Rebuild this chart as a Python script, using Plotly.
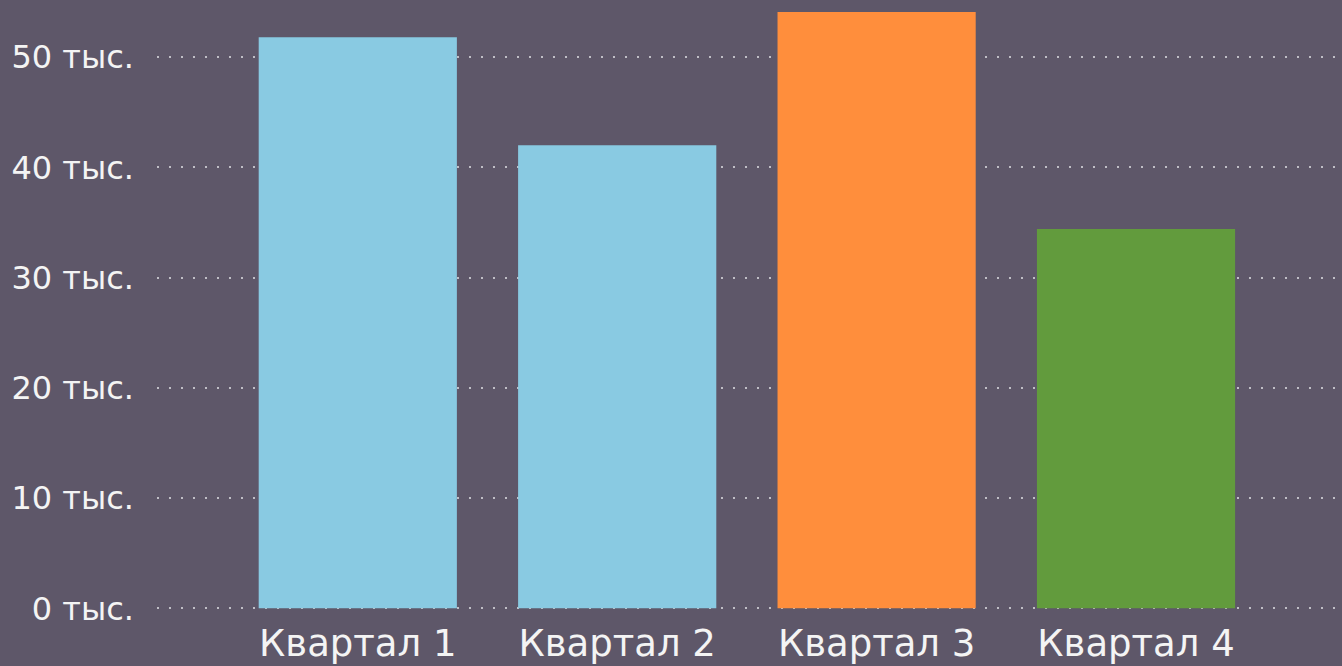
import plotly.graph_objects as go

categories = ["Квартал 1", "Квартал 2", "Квартал 3", "Квартал 4"]
values = [51800, 42000, 54100, 34400]
bar_colors = ["#89CAE2", "#89CAE2", "#FF8E3C", "#629B3D"]
tick_values = [0, 10000, 20000, 30000, 40000, 50000]
tick_labels = ["0 тыс.", "10 тыс.", "20 тыс.", "30 тыс.", "40 тыс.", "50 тыс."]

fig = go.Figure(go.Bar(
    x=categories, y=values,
    marker=dict(color=bar_colors, line=dict(width=0)),
    width=0.764,
))

fig.update_layout(
    width=1342, height=666,
    margin=dict(l=157, r=0, t=2, b=56, autoexpand=False),
    paper_bgcolor="#5E5769",
    plot_bgcolor="rgba(0,0,0,0)",
    showlegend=False,
    font=dict(family="DejaVu Sans", color="#F4F4F4"),
)
fig.update_xaxes(
    range=[-0.774, 3.794],
    showgrid=False, zeroline=False, showline=False,
    tickfont=dict(size=37, color="#F4F4F4"),
    ticklabelstandoff=8,
    automargin=False,
)
fig.update_yaxes(
    range=[-150, 55000],
    tickvals=tick_values, ticktext=tick_labels,
    showgrid=True, gridcolor="rgba(225,225,230,0.75)", gridwidth=1.5,
    griddash="2px,10px",
    zeroline=False, showline=False,
    tickfont=dict(size=32, color="#F4F4F4"),
    ticklabelstandoff=22,
    automargin=False,
)

fig.write_html(
    "out.html",
    config={"displayModeBar": False},
    post_script="document.body.style.margin='0';document.body.style.overflow='hidden';",
)
